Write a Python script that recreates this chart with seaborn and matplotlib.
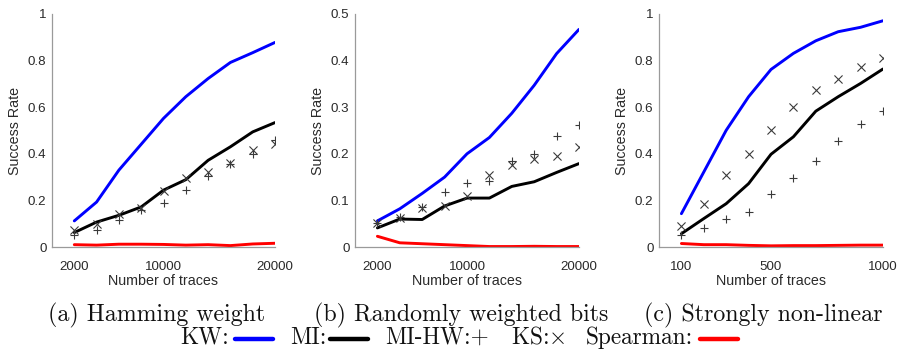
import numpy as np
import pandas as pd
import matplotlib
matplotlib.use("Agg")
import matplotlib.pyplot as plt
from matplotlib.lines import Line2D
import seaborn as sns

# ---------------- data ----------------
traces_a = [2000, 4000, 6000, 8000, 10000, 12000, 14000, 16000, 18000, 20000]
traces_b = [2000, 4000, 6000, 8000, 10000, 12000, 14000, 16000, 18000, 20000]
traces_c = [100, 200, 300, 400, 500, 600, 700, 800, 900, 1000]

kw_a = [0.112, 0.193, 0.330, 0.441, 0.552, 0.645, 0.723, 0.792, 0.834, 0.878]
mi_a = [0.062, 0.107, 0.136, 0.172, 0.244, 0.289, 0.372, 0.430, 0.494, 0.534]
mihw_a = [0.050, 0.074, 0.115, 0.158, 0.190, 0.246, 0.305, 0.355, 0.401, 0.461]
ks_a = [0.072, 0.100, 0.143, 0.169, 0.241, 0.297, 0.322, 0.362, 0.415, 0.444]
sp_a = [0.010, 0.008, 0.012, 0.012, 0.011, 0.008, 0.010, 0.006, 0.013, 0.016]

kw_b = [0.056, 0.082, 0.115, 0.150, 0.200, 0.235, 0.287, 0.347, 0.415, 0.467]
mi_b = [0.041, 0.060, 0.059, 0.088, 0.105, 0.105, 0.130, 0.140, 0.160, 0.179]
mihw_b = [0.052, 0.064, 0.086, 0.118, 0.138, 0.141, 0.184, 0.200, 0.238, 0.261]
ks_b = [0.052, 0.063, 0.084, 0.088, 0.109, 0.155, 0.175, 0.188, 0.195, 0.215]
sp_b = [0.023, 0.009, 0.007, 0.005, 0.003, 0.001, 0.001, 0.0015, 0.001, 0.001]

kw_c = [0.143, 0.322, 0.501, 0.645, 0.762, 0.831, 0.885, 0.924, 0.943, 0.971]
mi_c = [0.057, 0.122, 0.186, 0.272, 0.398, 0.473, 0.583, 0.645, 0.702, 0.764]
mihw_c = [0.053, 0.080, 0.122, 0.149, 0.226, 0.298, 0.367, 0.457, 0.530, 0.583]
ks_c = [0.089, 0.183, 0.307, 0.401, 0.501, 0.602, 0.672, 0.719, 0.771, 0.812]
sp_c = [0.015, 0.010, 0.010, 0.007, 0.005, 0.006, 0.006, 0.007, 0.008, 0.008]

captions = ["(a) Hamming weight", "(b) Randomly weighted bits", "(c) Strongly non-linear"]
xticks_a = [2000, 10000, 20000]
xticks_b = [2000, 10000, 20000]
xticks_c = [100, 500, 1000]
yticks_a = [0, 0.2, 0.4, 0.6, 0.8, 1]
yticks_b = [0, 0.1, 0.2, 0.3, 0.4, 0.5]
yticks_c = [0, 0.2, 0.4, 0.6, 0.8, 1]
ytlab_a = ["0", "0.2", "0.4", "0.6", "0.8", "1"]
ytlab_b = ["0", "0.1", "0.2", "0.3", "0.4", "0.5"]
ytlab_c = ["0", "0.2", "0.4", "0.6", "0.8", "1"]
xlims = [(0, 20000), (0, 20000), (0, 1000)]
ylims = [(0, 1), (0, 0.5), (0, 1)]

# ---------------- style ----------------
sns.set_style("white")
plt.rcParams["font.family"] = ["Liberation Sans", "DejaVu Sans"]
plt.rcParams["mathtext.fontset"] = "cm"

W, H = 898, 349
fig = plt.figure(figsize=(W / 100, H / 100), dpi=100)

panels = [
    (traces_a, kw_a, mi_a, mihw_a, ks_a, sp_a, xticks_a, yticks_a, ytlab_a),
    (traces_b, kw_b, mi_b, mihw_b, ks_b, sp_b, xticks_b, yticks_b, ytlab_b),
    (traces_c, kw_c, mi_c, mihw_c, ks_c, sp_c, xticks_c, yticks_c, ytlab_c),
]
lefts = [52, 355, 659]
widths = [223, 224, 224]
top_px, bot_px = 14, 247
palette = {"KW": "#0000ff", "MI": "#000000", "Spearman": "#ff0000"}
axis_col = "#9a9a9a"
txt_col = "#2a2a2a"

for i, (tr, kw, mi, mihw, ks, sp, xt, yt, ytl) in enumerate(panels):
    ax = fig.add_axes([lefts[i] / W, (H - bot_px) / H, widths[i] / W, (bot_px - top_px) / H])
    df = pd.DataFrame({
        "traces": list(tr) * 3,
        "rate": list(kw) + list(mi) + list(sp),
        "method": ["KW"] * len(tr) + ["MI"] * len(tr) + ["Spearman"] * len(tr),
    })
    sns.lineplot(data=df, x="traces", y="rate", hue="method", palette=palette,
                 linewidth=2.1, ax=ax, legend=False, zorder=2)
    sns.scatterplot(x=tr, y=mihw, marker="+", color="#3a3a3a", s=38, linewidth=0.8,
                    ax=ax, legend=False, zorder=3)
    sns.scatterplot(x=tr, y=ks, marker="x", color="#3a3a3a", s=34, linewidth=0.8,
                    ax=ax, legend=False, zorder=3)
    ax.set_xlim(*xlims[i])
    ax.set_ylim(*ylims[i])
    ax.set_xticks(xt)
    ax.set_xticklabels([str(v) for v in xt])
    ax.set_yticks(yt)
    ax.set_yticklabels(ytl)
    ax.set_xlabel("Number of traces", fontsize=10.3, color=txt_col, labelpad=1)
    ax.set_ylabel("Success Rate", fontsize=10.3, color=txt_col)
    ax.tick_params(axis="both", labelsize=9.6, colors=txt_col, direction="in",
                   length=2, width=0.8, pad=4)
    ax.tick_params(axis="x", length=0, pad=10)
    ax.tick_params(axis="y", color=axis_col)
    for s in ["top", "right"]:
        ax.spines[s].set_visible(False)
    for s in ["left", "bottom"]:
        ax.spines[s].set_color(axis_col)
        ax.spines[s].set_linewidth(0.9)
    ax.yaxis.set_label_coords(-30 / widths[i], 0.5)
    ax.patch.set_alpha(0)

# captions
cap_x = [157, 461, 763]
for cx, cap in zip(cap_x, captions):
    fig.text(cx / W, (H - 321) / H, cap, ha="center", va="baseline",
             fontsize=17.2, family="cmr10", color="#111111")

# legend line
leg_base = (H - 344) / H
line_y = (H - 339) / H
fs = 16.8
def ftext(x, s, fam="cmr10"):
    fig.text(x / W, leg_base, s, ha="left", va="baseline", fontsize=fs,
             family=fam, color="#111111")

def fline(x0, x1, c):
    fig.add_artist(Line2D([x0 / W, x1 / W], [line_y, line_y], color=c, lw=3.2,
                          transform=fig.transFigure))

ftext(180, "KW:")
fline(235, 273, "#0000ff")
ftext(290, "MI:")
fline(330, 368, "#000000")
ftext(385, "MI-HW:+")
ftext(511, r"KS:$\times$")
ftext(586, "Spearman:")
fline(700, 738, "#ff0000")

fig.savefig("out.png", dpi=100)
